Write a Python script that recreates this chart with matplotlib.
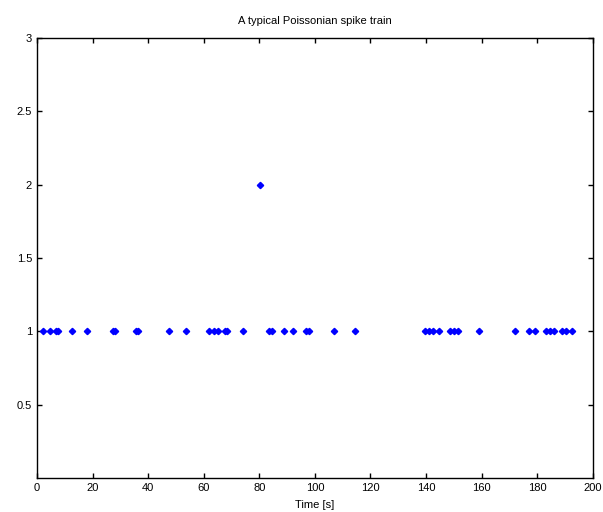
import numpy as np
import matplotlib.pyplot as plt

# spike times (seconds), y = spike count per bin
spike_times = [2.3, 4.7, 7.0, 7.5, 12.5, 18.1, 27.4, 28.0, 35.6, 36.2, 47.6, 53.5,
               61.9, 63.8, 65.2, 67.5, 68.2, 74.2, 83.6, 84.5, 89.0, 92.2, 96.8,
               98.0, 106.9, 114.4, 139.6, 141.1, 142.5, 144.7, 148.8, 150.1,
               151.5, 159.1, 172.1, 177.1, 179.1, 183.1, 184.5, 186.0, 189.1,
               190.3, 192.7]
spike_counts = [1] * len(spike_times)
double_time = [80.2]
double_count = [2]

xticks = np.arange(0, 201, 20)
yticks = [0.5, 1, 1.5, 2, 2.5, 3]

plt.rcParams['font.family'] = ['Liberation Sans', 'DejaVu Sans']
plt.rcParams['font.size'] = 8

fig = plt.figure(figsize=(6.03, 5.12), dpi=100)
ax = fig.add_axes([0.0614, 0.0664, 0.9216, 0.8596])

ax.plot(spike_times, spike_counts, 'D', color='blue', markersize=3.2, linestyle='none')
ax.plot(double_time, double_count, 'D', color='blue', markersize=3.2, linestyle='none')

ax.set_xlim(0, 200)
ax.set_ylim(0, 3)
ax.set_xticks(xticks)
ax.set_yticks(yticks)
ax.set_yticklabels(['0.5', '1', '1.5', '2', '2.5', '3'])
ax.tick_params(direction='in', top=True, right=True, length=3.5, width=1, labelsize=8)
for s in ax.spines.values():
    s.set_linewidth(1)

ax.set_title('A typical Poissonian spike train', fontsize=8, pad=10)
ax.set_xlabel('Time [s]', fontsize=8, labelpad=5)

fig.savefig('out.png', dpi=100)
